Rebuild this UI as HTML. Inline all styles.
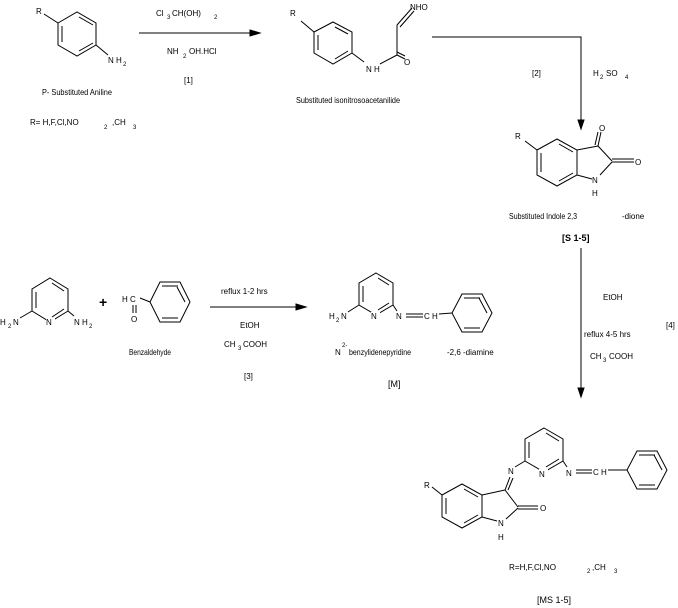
<!DOCTYPE html>
<html><head><meta charset="utf-8"><style>
html,body{margin:0;padding:0;background:#fff}
svg{display:block}
text{font-family:"Liberation Sans",sans-serif;font-size:8px;fill:#000}
line,polyline,polygon{stroke:#000;stroke-width:1;fill:none}
.s{font-size:6px}
</style></head><body>
<svg width="678" height="608" viewBox="0 0 678 608">
<!-- Aniline -->
<polygon points="58,23 77,12 96,23 96,45 77,56 58,45"/>
<line x1="62" y1="26" x2="62" y2="42"/><line x1="79" y1="17" x2="93" y2="25"/><line x1="79" y1="51" x2="93" y2="43"/>
<line x1="58" y1="23" x2="44" y2="14"/>
<line x1="96" y1="45" x2="108" y2="55"/>
<text x="36" y="14">R</text><text x="108" y="63">N H</text><text class="s" x="123" y="66">2</text>
<text x="42" y="95" textLength="70" lengthAdjust="spacingAndGlyphs">P- Substituted Aniline</text>
<text x="30" y="125">R= H,F,Cl,NO</text><text class="s" x="104" y="129">2</text><text x="112" y="125">,CH</text><text class="s" x="133" y="129">3</text>
<!-- arrow 1 -->
<line x1="139" y1="33" x2="252" y2="33"/><polygon points="250,30 260,33 250,36" style="fill:#000"/>
<text x="156" y="16">Cl</text><text class="s" x="167" y="19">3</text><text x="172" y="16">CH(OH)</text><text class="s" x="214" y="19">2</text>
<text x="167" y="54">NH</text><text class="s" x="183" y="58">2</text><text x="189" y="54">OH.HCl</text>
<text x="184" y="83">[1]</text>
<!-- isonitroso -->
<polygon points="314,32 333,22 352,32 352,53 333,64 314,53"/>
<line x1="318" y1="35" x2="318" y2="50"/><line x1="335" y1="27" x2="348" y2="34"/><line x1="335" y1="59" x2="348" y2="51"/>
<line x1="314" y1="32" x2="301" y2="21"/><text x="290" y="16">R</text>
<line x1="352" y1="53" x2="364" y2="62"/>
<text x="366" y="72">N H</text>
<line x1="380" y1="64" x2="397" y2="55"/><line x1="397" y1="55" x2="405" y2="59"/><line x1="397" y1="52" x2="405" y2="56"/>
<text x="404" y="65">O</text>
<line x1="397" y1="55" x2="397" y2="25"/><line x1="397" y1="25" x2="412" y2="8"/><line x1="400" y1="27" x2="414" y2="11"/>
<text x="410" y="10">NHO</text>
<text x="296" y="103" textLength="104" lengthAdjust="spacingAndGlyphs">Substituted isonitrosoacetanilide</text>
<!-- arrow 2 -->
<polyline points="432,37 581,37 581,122"/><polygon points="578,120 581,129 584,120" style="fill:#000"/>
<text x="532" y="76">[2]</text>
<text x="593" y="76">H</text><text class="s" x="600" y="79">2</text><text x="606" y="76">SO</text><text class="s" x="625" y="79">4</text>
<!-- isatin -->
<polygon points="537,150 557,139 577,150 577,175 557,186 537,175"/>
<line x1="541" y1="153" x2="541" y2="172"/><line x1="559" y1="144" x2="573" y2="152"/><line x1="559" y1="181" x2="573" y2="173"/>
<line x1="537" y1="150" x2="525" y2="141"/><text x="515" y="139">R</text>
<line x1="577" y1="150" x2="598" y2="146"/><line x1="598" y1="146" x2="612" y2="161"/>
<line x1="598" y1="146" x2="601" y2="132"/><line x1="595" y1="145" x2="598" y2="132"/>
<text x="599" y="131">O</text>
<line x1="612" y1="162" x2="634" y2="162"/><line x1="612" y1="159" x2="634" y2="159"/><text x="635" y="165">O</text>
<line x1="612" y1="162" x2="600" y2="175"/><line x1="577" y1="175" x2="592" y2="179"/>
<text x="592" y="183">N</text><text x="592" y="196">H</text>
<text x="509" y="219" textLength="68" lengthAdjust="spacingAndGlyphs">Substituted Indole 2,3</text>
<text x="622" y="219">-dione</text>
<text x="562" y="241" style="font-size:9px;font-weight:bold">[S 1-5]</text>
<!-- arrow 4 -->
<line x1="581" y1="248" x2="581" y2="390"/><polygon points="578,388 581,397 584,388" style="fill:#000"/>
<text x="603" y="300">EtOH</text>
<text x="584" y="337">reflux 4-5 hrs</text>
<text x="590" y="359">CH</text><text class="s" x="603" y="362">3</text><text x="609" y="359">COOH</text>
<text x="666" y="328">[4]</text>
<!-- diaminopyridine -->
<polygon points="50,278 68,289 68,311 50,322 32,311 32,289"/>
<line x1="36" y1="292" x2="36" y2="308"/><line x1="52" y1="283" x2="64" y2="291"/><line x1="52" y1="317" x2="64" y2="309"/>
<rect x="46" y="318" width="9" height="8" fill="#fff"/><text x="46" y="325">N</text>
<line x1="32" y1="311" x2="20" y2="318"/><text x="0" y="325">H</text><text class="s" x="8" y="328">2</text><text x="13" y="325">N</text>
<line x1="68" y1="311" x2="74" y2="316"/><text x="74" y="325">N H</text><text class="s" x="89" y="328">2</text>
<text x="99" y="307" style="font-size:14px;font-weight:bold">+</text>
<!-- benzaldehyde -->
<text x="122" y="302">H C</text><line x1="133" y1="305" x2="133" y2="313"/><line x1="136" y1="305" x2="136" y2="313"/><text x="131" y="322">O</text>
<line x1="140" y1="298" x2="150" y2="302"/>
<polygon points="150,302 160,282 180,282 190,302 180,322 160,322"/>
<line x1="162" y1="286" x2="178" y2="286"/><line x1="162" y1="318" x2="178" y2="318"/><line x1="185" y1="302" x2="177" y2="287"/>
<text x="129" y="355" textLength="42" lengthAdjust="spacingAndGlyphs">Benzaldehyde</text>
<!-- arrow 3 -->
<line x1="210" y1="307" x2="298" y2="307"/><polygon points="296,304 306,307 296,310" style="fill:#000"/>
<text x="221" y="294">reflux 1-2 hrs</text>
<text x="240" y="328">EtOH</text>
<text x="224" y="347">CH</text><text class="s" x="238" y="350">3</text><text x="243" y="347">COOH</text>
<text x="244" y="379">[3]</text>
<!-- M -->
<polygon points="376,273 393,283 393,305 376,315 359,305 359,283"/>
<line x1="363" y1="286" x2="363" y2="302"/><line x1="378" y1="278" x2="389" y2="285"/><line x1="378" y1="310" x2="389" y2="303"/>
<rect x="371" y="312" width="9" height="8" fill="#fff"/><text x="371" y="319">N</text>
<line x1="359" y1="305" x2="348" y2="312"/><text x="329" y="319">H</text><text class="s" x="336" y="322">2</text><text x="341" y="319">N</text>
<line x1="393" y1="305" x2="397" y2="311"/><text x="396" y="319">N</text>
<line x1="406" y1="314" x2="423" y2="314"/><line x1="406" y1="317" x2="423" y2="317"/>
<text x="424" y="319">C H</text>
<line x1="439" y1="314" x2="452" y2="313"/>
<polygon points="452,313 462,294 482,294 492,313 482,332 462,332"/>
<line x1="464" y1="298" x2="480" y2="298"/><line x1="464" y1="328" x2="480" y2="328"/><line x1="487" y1="313" x2="479" y2="298"/>
<text x="335" y="355">N</text><text class="s" x="342" y="347">2-</text><text x="349" y="355" textLength="62" lengthAdjust="spacingAndGlyphs">benzylidenepyridine</text>
<text x="447" y="355">-2,6 -diamine</text>
<text x="388" y="387" style="font-size:9px">[M]</text>
<!-- MS -->
<polygon points="544,428 563,439 563,461 544,472 525,461 525,439"/>
<line x1="529" y1="442" x2="529" y2="458"/><line x1="546" y1="433" x2="559" y2="441"/><line x1="546" y1="467" x2="559" y2="459"/>
<rect x="539" y="469" width="9" height="8" fill="#fff"/><text x="539" y="477">N</text>
<line x1="563" y1="461" x2="567" y2="467"/><text x="566" y="476">N</text>
<line x1="576" y1="470" x2="592" y2="470"/><line x1="576" y1="473" x2="592" y2="473"/>
<text x="593" y="475">C H</text>
<line x1="608" y1="470" x2="627" y2="470"/>
<polygon points="627,470 637,451 657,451 667,470 657,489 637,489"/>
<line x1="639" y1="455" x2="655" y2="455"/><line x1="639" y1="485" x2="655" y2="485"/><line x1="662" y1="470" x2="654" y2="455"/>
<line x1="525" y1="461" x2="515" y2="467"/><text x="508" y="474">N</text>
<line x1="510" y1="477" x2="505" y2="490"/><line x1="513" y1="478" x2="508" y2="490"/>
<!-- indolinone -->
<polygon points="442,495 462,484 482,495 482,517 462,528 442,517"/>
<line x1="446" y1="498" x2="446" y2="514"/><line x1="464" y1="489" x2="478" y2="497"/><line x1="464" y1="523" x2="478" y2="515"/>
<line x1="442" y1="495" x2="432" y2="487"/><text x="424" y="488">R</text>
<line x1="482" y1="495" x2="505" y2="490"/><line x1="505" y1="490" x2="518" y2="507"/>
<line x1="518" y1="506" x2="538" y2="506"/><line x1="518" y1="509" x2="538" y2="509"/><text x="540" y="511">O</text>
<line x1="518" y1="508" x2="506" y2="519"/><line x1="482" y1="517" x2="497" y2="521"/>
<text x="498" y="526">N</text><text x="498" y="540">H</text>
<text x="509" y="570" textLength="47" lengthAdjust="spacingAndGlyphs">R=H,F,Cl,NO</text><text class="s" x="587" y="573">2</text><text x="592" y="570">,CH</text><text class="s" x="614" y="573">3</text>
<text x="537" y="603" style="font-size:9px">[MS 1-5]</text>
</svg>
</body></html>
